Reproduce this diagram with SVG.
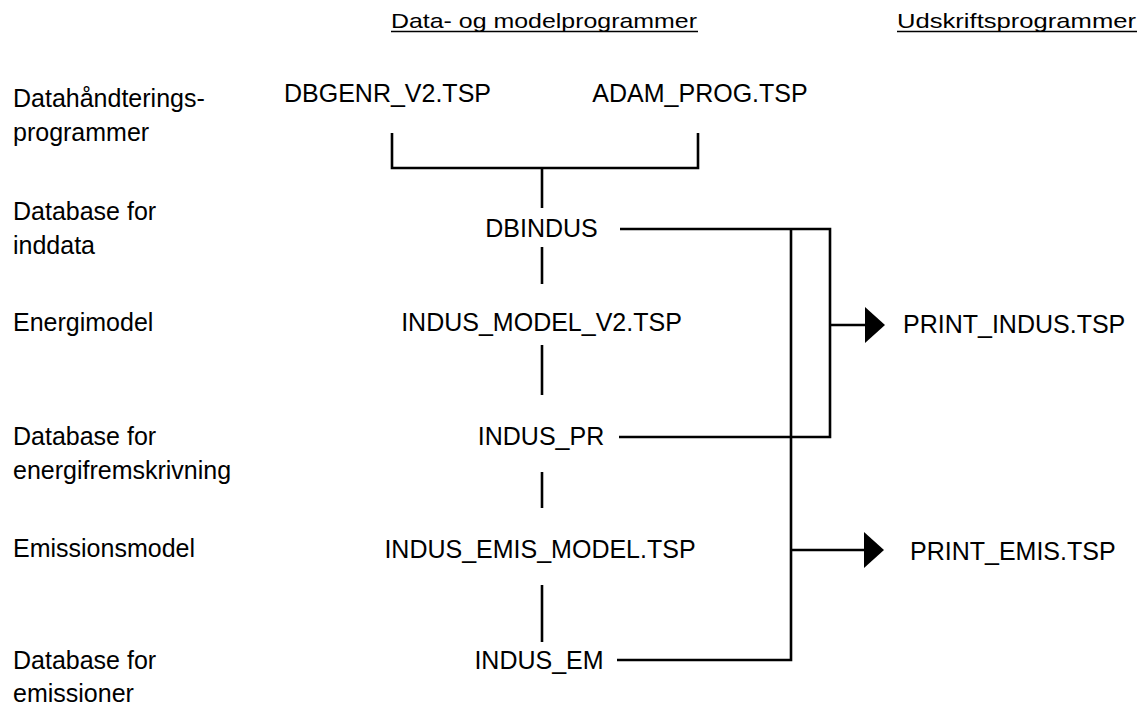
<svg xmlns="http://www.w3.org/2000/svg" width="1145" height="708" viewBox="0 0 1145 708">
<defs>
<style>
text{font-family:"Liberation Sans",Arial,sans-serif;font-size:25px;fill:#000}
.c{text-anchor:middle}
.h{font-size:21px}
.ln{stroke:#000;stroke-width:2.6;fill:none}
.ul{stroke:#000;stroke-width:1.5;fill:none}
</style>
<marker id="ah" markerWidth="20" markerHeight="36" refX="0" refY="18" orient="auto" markerUnits="userSpaceOnUse">
<path d="M0,0 L20,18 L0,36 Z" fill="#000"/>
</marker>
</defs>
<rect width="1145" height="708" fill="#fff"/>
<g id="headers">
<text id="h1" x="391" y="28" class="h" textLength="306" lengthAdjust="spacingAndGlyphs">Data- og modelprogrammer</text>
<path class="ul" d="M391,31.5 H698"/>
<text id="h2" x="897" y="28" class="h" textLength="239" lengthAdjust="spacingAndGlyphs">Udskriftsprogrammer</text>
<path class="ul" d="M897,31.5 H1137"/>
</g>
<g id="rowlabels">
<text x="13" y="107">Datahåndterings-</text>
<text x="13" y="141">programmer</text>
<text x="13" y="220">Database for</text>
<text x="13" y="254">inddata</text>
<text x="13" y="331">Energimodel</text>
<text x="13" y="445">Database for</text>
<text x="13" y="479">energifremskrivning</text>
<text x="13" y="557">Emissionsmodel</text>
<text x="13" y="669">Database for</text>
<text x="13" y="702">emissioner</text>
</g>
<g id="n_dbgenr"><text x="387.5" y="102" class="c">DBGENR_V2.TSP</text></g>
<g id="n_adam"><text x="700" y="102" class="c">ADAM_PROG.TSP</text></g>
<g id="n_dbindus"><text x="541.5" y="237" class="c">DBINDUS</text></g>
<g id="n_model"><text x="541.5" y="331" class="c">INDUS_MODEL_V2.TSP</text></g>
<g id="n_pr"><text x="541" y="445" class="c">INDUS_PR</text></g>
<g id="n_emis"><text x="540" y="558" class="c">INDUS_EMIS_MODEL.TSP</text></g>
<g id="n_em"><text x="539" y="669" class="c">INDUS_EM</text></g>
<g id="n_printindus"><text x="903" y="333">PRINT_INDUS.TSP</text></g>
<g id="n_printemis"><text x="910" y="560">PRINT_EMIS.TSP</text></g>
<g id="connectors">
<path class="ln" d="M392,133 V168 H698 V133"/>
<path class="ln" d="M542,168 V208"/>
<path class="ln" d="M542,247 V284"/>
<path class="ln" d="M542,345 V395"/>
<path class="ln" d="M542,472 V508"/>
<path class="ln" d="M542,585 V642"/>
<path class="ln" d="M620,229 H830 V437 H619"/>
<path class="ln" d="M791,229 V660 H617"/>
<path class="ln" d="M830,325 H865" marker-end="url(#ah)"/>
<path class="ln" d="M791,550 H864" marker-end="url(#ah)"/>
</g>
</svg>
